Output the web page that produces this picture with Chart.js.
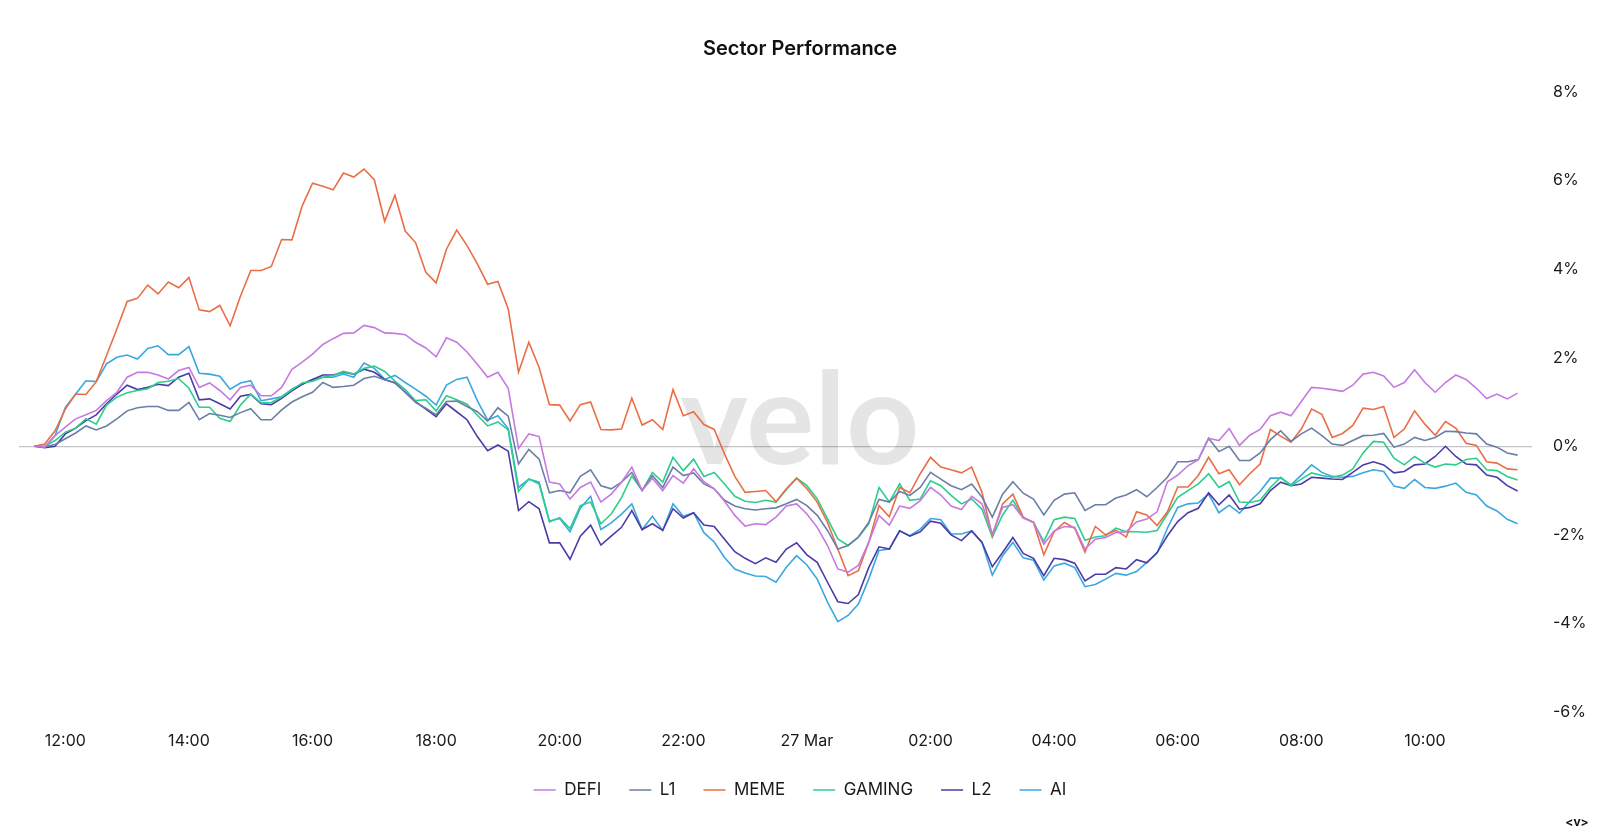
<!DOCTYPE html>
<html>
<head>
<meta charset="utf-8">
<title>Sector Performance</title>
<script src="https://cdn.jsdelivr.net/npm/chart.js@4.4.1/dist/chart.umd.min.js"></script>
<style>
    html, body { margin: 0; padding: 0; background: #fff; }
    #wrap { width: 1600px; height: 837px; position: relative; }
</style>
</head>
<body>
<div id="wrap"><canvas id="sectorChart"></canvas></div>
<script>
// Serie de 10 minutos, de 11:30 a 11:30 del día siguiente
const startMinute = 690;
const stepMinutes = 10;

const tickMinutes = [720, 840, 960, 1080, 1200, 1320, 1440, 1560, 1680, 1800, 1920, 2040];
const tickLabels = ['12:00', '14:00', '16:00', '18:00', '20:00', '22:00', '27 Mar', '02:00', '04:00', '06:00', '08:00', '10:00'];

const seriesNames = ['DEFI', 'L1', 'MEME', 'GAMING', 'L2', 'AI'];
const seriesColors = ['#c679e0', '#6b7ea6', '#ea6e45', '#2dcd8c', '#4a3ca6', '#3aa7e0'];

const defi = [
    0, -0.02, 0.24, 0.43, 0.62, 0.71, 0.81, 1.03, 1.22, 1.56, 1.67, 1.67,
    1.61, 1.52, 1.71, 1.78, 1.33, 1.43, 1.26, 1.05, 1.33, 1.38, 1.14, 1.14,
    1.33, 1.74, 1.9, 2.08, 2.3, 2.43, 2.55, 2.56, 2.73, 2.68, 2.56, 2.55,
    2.52, 2.35, 2.22, 2.02, 2.45, 2.35, 2.13, 1.85, 1.56, 1.67, 1.31, -0.05,
    0.28, 0.22, -0.81, -0.85, -1.19, -0.93, -0.81, -1.26, -1.08, -0.81, -0.47, -1.0,
    -0.72, -1.0, -0.66, -0.83, -0.51, -0.8, -0.96, -1.24, -1.56, -1.8, -1.75, -1.77,
    -1.6, -1.35, -1.3, -1.53, -1.83, -2.24, -2.77, -2.84, -2.69, -2.17, -1.56, -1.78,
    -1.35, -1.4, -1.23, -0.93, -1.1, -1.35, -1.43, -1.13, -1.3, -1.98, -1.38, -1.32,
    -1.62, -1.71, -2.21, -1.91, -1.81, -1.83, -2.32, -2.1, -2.06, -1.95, -1.93, -1.71,
    -1.64, -1.48, -0.8, -0.65, -0.44, -0.3, 0.18, 0.13, 0.4, 0.02, 0.25, 0.38,
    0.69, 0.77, 0.69, 1.01, 1.33, 1.31, 1.28, 1.24, 1.38, 1.63, 1.67, 1.59,
    1.33, 1.44, 1.73, 1.44, 1.22, 1.44, 1.61, 1.51, 1.31, 1.08, 1.18, 1.07,
    1.2
];

const l1 = [
    0, -0.01, 0.04, 0.17, 0.3, 0.46, 0.37, 0.46, 0.62, 0.8, 0.87, 0.9,
    0.9, 0.81, 0.81, 0.99, 0.6, 0.74, 0.7, 0.65, 0.76, 0.85, 0.6, 0.6,
    0.82, 1.0, 1.12, 1.22, 1.44, 1.33, 1.35, 1.38, 1.53, 1.58, 1.5, 1.44,
    1.22, 0.99, 0.86, 0.71, 1.01, 1.02, 0.9, 0.78, 0.57, 0.87, 0.68, -0.4,
    -0.07, -0.29, -1.05, -1.0, -1.05, -0.68, -0.53, -0.89, -0.96, -0.81, -0.59, -1.0,
    -0.66, -0.93, -0.47, -0.66, -0.6, -0.85, -0.96, -1.22, -1.35, -1.41, -1.44, -1.41,
    -1.39, -1.3, -1.2, -1.34, -1.56, -1.9, -2.32, -2.24, -2.05, -1.72, -1.2, -1.26,
    -1.02, -1.11, -0.93, -0.59, -0.74, -0.89, -0.98, -0.85, -1.15, -1.6, -1.08, -0.8,
    -1.06, -1.19, -1.55, -1.22, -1.08, -1.05, -1.45, -1.32, -1.32, -1.17, -1.1, -0.98,
    -1.14, -0.93, -0.7, -0.35, -0.35, -0.3, 0.18, -0.12, 0.0, -0.32, -0.32, -0.15,
    0.15, 0.35, 0.11, 0.28, 0.41, 0.24, 0.05, 0.02, 0.13, 0.24, 0.25, 0.29,
    -0.02, 0.05, 0.2, 0.13, 0.2, 0.34, 0.33, 0.3, 0.28, 0.05, -0.02, -0.15,
    -0.2
];

const meme = [
    0, 0.05, 0.35, 0.84, 1.18, 1.17, 1.46, 2.05, 2.65, 3.27, 3.34, 3.64,
    3.44, 3.71, 3.58, 3.81, 3.08, 3.04, 3.18, 2.72, 3.39, 3.97, 3.97, 4.06,
    4.67, 4.66, 5.43, 5.94, 5.87, 5.79, 6.17, 6.08, 6.26, 6.02, 5.08, 5.67,
    4.86, 4.6, 3.93, 3.69, 4.45, 4.88, 4.53, 4.12, 3.66, 3.72, 3.1, 1.67,
    2.35, 1.78, 0.94, 0.93, 0.57, 0.94, 1.0, 0.38, 0.37, 0.39, 1.09, 0.48,
    0.6, 0.38, 1.28, 0.69, 0.78, 0.49, 0.38, -0.17, -0.68, -1.04, -1.02, -1.0,
    -1.25, -0.96, -0.72, -0.96, -1.26, -1.72, -2.32, -2.92, -2.81, -2.17, -1.34, -1.59,
    -0.93, -1.05, -0.62, -0.25, -0.47, -0.53, -0.6, -0.47, -1.04, -2.02, -1.3, -1.08,
    -1.6, -1.72, -2.45, -1.93, -1.72, -1.85, -2.39, -1.81, -2.0, -1.9, -2.05, -1.48,
    -1.55, -1.79, -1.48, -0.92, -0.92, -0.66, -0.25, -0.62, -0.53, -0.87, -0.62, -0.4,
    0.38, 0.23, 0.09, 0.39, 0.84, 0.72, 0.2, 0.29, 0.47, 0.86, 0.83, 0.9,
    0.2, 0.39, 0.8, 0.5, 0.25, 0.56, 0.41, 0.07, 0.02, -0.35, -0.38, -0.51,
    -0.53
];

const gaming = [
    0, 0, 0.13, 0.32, 0.41, 0.62, 0.5, 0.93, 1.11, 1.21, 1.26, 1.3,
    1.44, 1.47, 1.53, 1.31, 0.88, 0.88, 0.63, 0.56, 0.93, 1.18, 0.98, 0.99,
    1.11, 1.28, 1.43, 1.47, 1.56, 1.6, 1.69, 1.63, 1.76, 1.81, 1.69, 1.47,
    1.28, 1.03, 1.05, 0.8, 1.14, 1.05, 0.95, 0.7, 0.46, 0.55, 0.37, -1.02,
    -0.74, -0.85, -1.71, -1.61, -1.86, -1.34, -1.26, -1.75, -1.53, -1.16, -0.67, -1.0,
    -0.59, -0.81, -0.25, -0.55, -0.29, -0.68, -0.59, -0.85, -1.13, -1.24, -1.27, -1.22,
    -1.26, -0.98, -0.72, -0.89, -1.19, -1.64, -2.09, -2.24, -2.05, -1.75, -0.93, -1.26,
    -0.85, -1.22, -1.19, -0.78, -0.89, -1.11, -1.3, -1.19, -1.42, -2.05, -1.55, -1.22,
    -1.61, -1.72, -2.15, -1.66, -1.6, -1.63, -2.12, -2.05, -2.02, -1.85, -1.93, -1.93,
    -1.94, -1.9, -1.53, -1.15, -1.0, -0.85, -0.62, -0.93, -0.8, -1.26, -1.27, -1.22,
    -0.93, -0.7, -0.89, -0.74, -0.6, -0.66, -0.7, -0.65, -0.51, -0.15, 0.11, 0.09,
    -0.27, -0.42, -0.23, -0.38, -0.47, -0.4, -0.42, -0.3, -0.27, -0.53, -0.55, -0.68,
    -0.76
];

const l2 = [
    0, -0.03, 0.0, 0.28, 0.41, 0.58, 0.71, 0.96, 1.18, 1.38, 1.28, 1.33,
    1.4, 1.37, 1.56, 1.65, 1.05, 1.07, 0.96, 0.84, 1.13, 1.17, 0.96, 0.94,
    1.08, 1.25, 1.4, 1.51, 1.61, 1.61, 1.67, 1.63, 1.74, 1.67, 1.51, 1.43,
    1.22, 1.01, 0.84, 0.67, 0.96, 0.78, 0.6, 0.22, -0.1, 0.03, -0.11, -1.45,
    -1.25, -1.41, -2.18, -2.18, -2.55, -2.03, -1.78, -2.23, -2.03, -1.83, -1.45, -1.88,
    -1.75, -1.9, -1.41, -1.62, -1.5, -1.78, -1.81, -2.1, -2.38, -2.53, -2.65, -2.52,
    -2.62, -2.32, -2.18, -2.45, -2.62, -3.07, -3.51, -3.55, -3.35, -2.74, -2.27, -2.32,
    -1.91, -2.03, -1.93, -1.69, -1.74, -2.0, -2.13, -1.91, -2.17, -2.72, -2.4, -2.06,
    -2.42, -2.53, -2.92, -2.53, -2.56, -2.64, -3.04, -2.89, -2.89, -2.74, -2.77, -2.56,
    -2.63, -2.4, -2.02, -1.7, -1.5, -1.4, -1.05, -1.32, -1.1, -1.42, -1.38, -1.3,
    -1.0, -0.81, -0.89, -0.85, -0.7, -0.72, -0.74, -0.75, -0.59, -0.42, -0.35, -0.42,
    -0.6, -0.57, -0.42, -0.4, -0.23, 0.0, -0.23, -0.4, -0.42, -0.65, -0.7, -0.89,
    -1.01
];

const ai = [
    0, -0.01, 0.24, 0.88, 1.18, 1.48, 1.46, 1.86, 2.01, 2.06, 1.97, 2.21,
    2.27, 2.07, 2.07, 2.25, 1.65, 1.63, 1.58, 1.29, 1.43, 1.48, 1.03, 1.07,
    1.12, 1.29, 1.4, 1.51, 1.56, 1.56, 1.63, 1.56, 1.88, 1.76, 1.51, 1.6,
    1.44, 1.29, 1.13, 0.93, 1.38, 1.51, 1.56, 1.03, 0.59, 0.69, 0.4, -0.93,
    -0.74, -0.81, -1.69, -1.63, -1.93, -1.4, -1.13, -1.88, -1.73, -1.53, -1.3, -1.88,
    -1.58, -1.9, -1.3, -1.58, -1.5, -1.95, -2.16, -2.51, -2.77, -2.86, -2.93, -2.94,
    -3.07, -2.73, -2.47, -2.68, -3.0, -3.52, -3.96, -3.82, -3.56, -3.0, -2.35, -2.32,
    -1.91, -2.02, -1.87, -1.63, -1.66, -1.98, -1.98, -1.91, -2.17, -2.91, -2.47, -2.17,
    -2.52, -2.57, -3.02, -2.7, -2.64, -2.74, -3.17, -3.12, -3.0, -2.87, -2.91, -2.83,
    -2.62, -2.41, -1.85, -1.38, -1.3, -1.28, -1.08, -1.5, -1.33, -1.51, -1.24, -1.02,
    -0.72, -0.72, -0.87, -0.65, -0.42, -0.59, -0.68, -0.7, -0.68, -0.6, -0.53, -0.57,
    -0.9, -0.95, -0.75, -0.93, -0.95, -0.9, -0.83, -1.04, -1.1, -1.35, -1.46, -1.65,
    -1.75
];

const seriesValues = [defi, l1, meme, gaming, l2, ai];

Chart.defaults.font.family = 'Inter, Lato, sans-serif';
Chart.defaults.color = '#1a1a1a';

// Marca de agua "velo" detrás de las líneas y marca de la esquina
const watermark = {
    id: 'watermark',
    beforeDatasetsDraw(chart) {
        const ctx = chart.ctx;
        ctx.save();
        ctx.font = 'bold 128px Lato, Inter, sans-serif';
        ctx.fillStyle = 'rgba(0, 0, 0, 0.1)';
        ctx.textAlign = 'center';
        ctx.textBaseline = 'alphabetic';
        ctx.fillText('velo', 800, 464);
        ctx.restore();
    },
    afterDraw(chart) {
        const ctx = chart.ctx;
        ctx.save();
        ctx.font = 'bold 12px Inter, sans-serif';
        ctx.fillStyle = '#111';
        ctx.textAlign = 'center';
        ctx.textBaseline = 'middle';
        ctx.fillText('<v>', 1577, 822);
        ctx.restore();
    }
};

const datasets = seriesNames.map((name, k) => ({
    label: name,
    data: seriesValues[k].map((v, i) => ({ x: startMinute + i * stepMinutes, y: v })),
    xAxisID: 'x',
    yAxisID: 'y',
    borderColor: seriesColors[k],
    backgroundColor: seriesColors[k],
    borderWidth: 1.6,
    pointRadius: 0,
    tension: 0
}));

new Chart(document.getElementById('sectorChart'), {
    type: 'line',
    data: { datasets },
    options: {
        responsive: true,
        maintainAspectRatio: false,
        animation: false,
        layout: { padding: { left: 0, right: 0, top: 0, bottom: 28.5 } },
        plugins: {
            title: {
                display: true,
                text: 'Sector Performance',
                color: '#111',
                font: { size: 20, weight: '600' },
                padding: { top: 37, bottom: 31 }
            },
            legend: {
                position: 'bottom',
                labels: {
                    usePointStyle: true,
                    pointStyle: 'line',
                    pointStyleWidth: 22,
                    padding: 28,
                    color: '#1a1a1a',
                    font: { size: 17 }
                }
            },
            tooltip: { enabled: false }
        },
        scales: {
            x: {
                type: 'linear',
                min: 675,
                max: 2144,
                grid: { display: false, drawTicks: false },
                border: { display: false },
                afterBuildTicks: scale => {
                    scale.ticks = tickMinutes.map(v => ({ value: v }));
                },
                afterFit: scale => { scale.height = 41.5; },
                ticks: {
                    padding: 20,
                    maxRotation: 0,
                    autoSkip: false,
                    color: '#1a1a1a',
                    font: { size: 16 },
                    callback: value => tickLabels[tickMinutes.indexOf(value)]
                }
            },
            y: {
                type: 'linear',
                position: 'right',
                min: -6,
                max: 8,
                grid: {
                    drawTicks: false,
                    color: ctx => ctx.tick && ctx.tick.value === 0 ? '#c4c4c4' : 'transparent',
                    lineWidth: 1.2
                },
                border: { display: false },
                afterFit: scale => { scale.width = 68; },
                ticks: {
                    stepSize: 2,
                    padding: 21,
                    color: '#1a1a1a',
                    font: { size: 16 },
                    callback: value => value + '%'
                }
            },
            // eje vacío a la izquierda: sólo deja el margen antes de la línea del cero
            yLeft: {
                type: 'linear',
                axis: 'y',
                position: 'left',
                min: -6,
                max: 8,
                grid: { display: false, drawTicks: false },
                border: { display: false },
                ticks: { display: false },
                afterFit: scale => { scale.width = 19; }
            }
        }
    },
    plugins: [watermark]
});
</script>
</body>
</html>
